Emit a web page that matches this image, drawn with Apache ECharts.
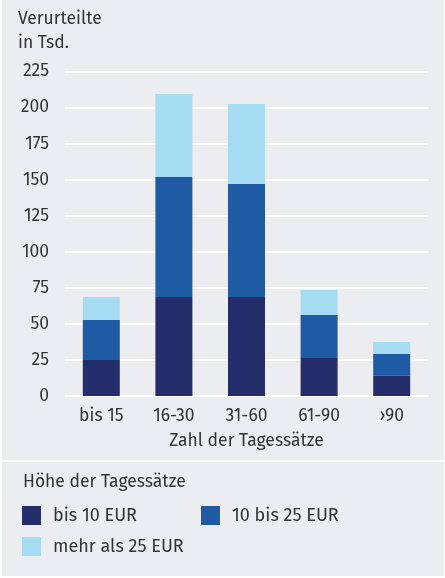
<!DOCTYPE html>
<html>
<head>
<meta charset="utf-8">
<script src="https://cdn.jsdelivr.net/npm/echarts@6/dist/echarts.min.js"></script>
<style>
  html, body { margin: 0; padding: 0; background: #ffffff; }
  #chart { position: absolute; left: 2px; top: 0; width: 442px; height: 576px; }
</style>
</head>
<body>
<div id="chart"></div>
<script>
    // Verurteilte nach Zahl und Höhe der Tagessätze (in Tsd.)
    var categories = ['bis 15', '16-30', '31-60', '61-90', '›90'];
    var seriesNames = ['bis 10 EUR', '10 bis 25 EUR', 'mehr als 25 EUR'];
    var bis10   = [25, 68.7, 68.7, 26.4, 14];
    var bis25   = [27.7, 83.2, 78.3, 29.8, 15.2];
    var mehr25  = [16, 57.5, 55.5, 17.3, 8.3];
    var yTicks  = [0, 25, 50, 75, 100, 125, 150, 175, 200, 225];

    var colors = ['#232e6a', '#1e5ba4', '#a6dcf1'];
    var textColor = '#333333';
    var fontFamily = '"Fira Sans", "Noto Sans", sans-serif';
    var fs = 17.5;

    var chart = echarts.init(document.getElementById('chart'));

    function legendAt(name, left, top) {
        return {
            data: [name],
            left: left,
            top: top,
            padding: 0,
            orient: 'horizontal',
            itemWidth: 19,
            itemHeight: 19,
            icon: 'rect',
            selectedMode: false,
            textStyle: {
                color: textColor,
                fontSize: 18,
                fontFamily: fontFamily,
                padding: [0, 0, 0, 7]
            }
        };
    }

    var option = {
        backgroundColor: '#ecedf0',
        animation: false,
        color: colors,
        textStyle: { fontFamily: fontFamily },
        grid: {
            left: 63,
            right: 16,
            top: 71.5,
            bottom: 180
        },
        graphic: [
            {
                type: 'text',
                left: 16,
                top: 7,
                style: {
                    text: 'Verurteilte\nin Tsd.',
                    fill: textColor,
                    font: fs + 'px ' + fontFamily,
                    lineHeight: 24
                }
            },
            {
                type: 'rect',
                shape: { x: 0, y: 460, width: 442, height: 2 },
                style: { fill: '#ffffff' }
            },
            {
                type: 'text',
                left: 21,
                top: 473,
                style: {
                    text: 'Höhe der Tagessätze',
                    fill: textColor,
                    font: fs + 'px ' + fontFamily
                }
            }
        ],
        legend: [
            legendAt(seriesNames[0], 20, 506),
            legendAt(seriesNames[1], 199, 506),
            legendAt(seriesNames[2], 20, 537)
        ],
        xAxis: {
            type: 'category',
            data: categories,
            name: 'Zahl der Tagessätze',
            nameLocation: 'middle',
            nameGap: 36,
            nameTextStyle: { color: textColor, fontSize: fs, fontFamily: fontFamily },
            axisLine: { show: false },
            axisTick: { show: false },
            axisLabel: { color: textColor, fontSize: fs, margin: 11, fontFamily: fontFamily }
        },
        yAxis: {
            type: 'value',
            min: yTicks[0],
            max: yTicks[yTicks.length - 1],
            interval: 25,
            axisLine: { show: false },
            axisTick: { show: false },
            axisLabel: { color: textColor, fontSize: fs, margin: 16, fontFamily: fontFamily },
            splitLine: { lineStyle: { color: '#ffffff', width: 2 } }
        },
        series: [
            { name: seriesNames[0], type: 'bar', stack: 'total', barWidth: 37, data: bis10 },
            { name: seriesNames[1], type: 'bar', stack: 'total', barWidth: 37, data: bis25 },
            { name: seriesNames[2], type: 'bar', stack: 'total', barWidth: 37, data: mehr25 }
        ]
    };

    chart.setOption(option);
</script>
</body>
</html>
